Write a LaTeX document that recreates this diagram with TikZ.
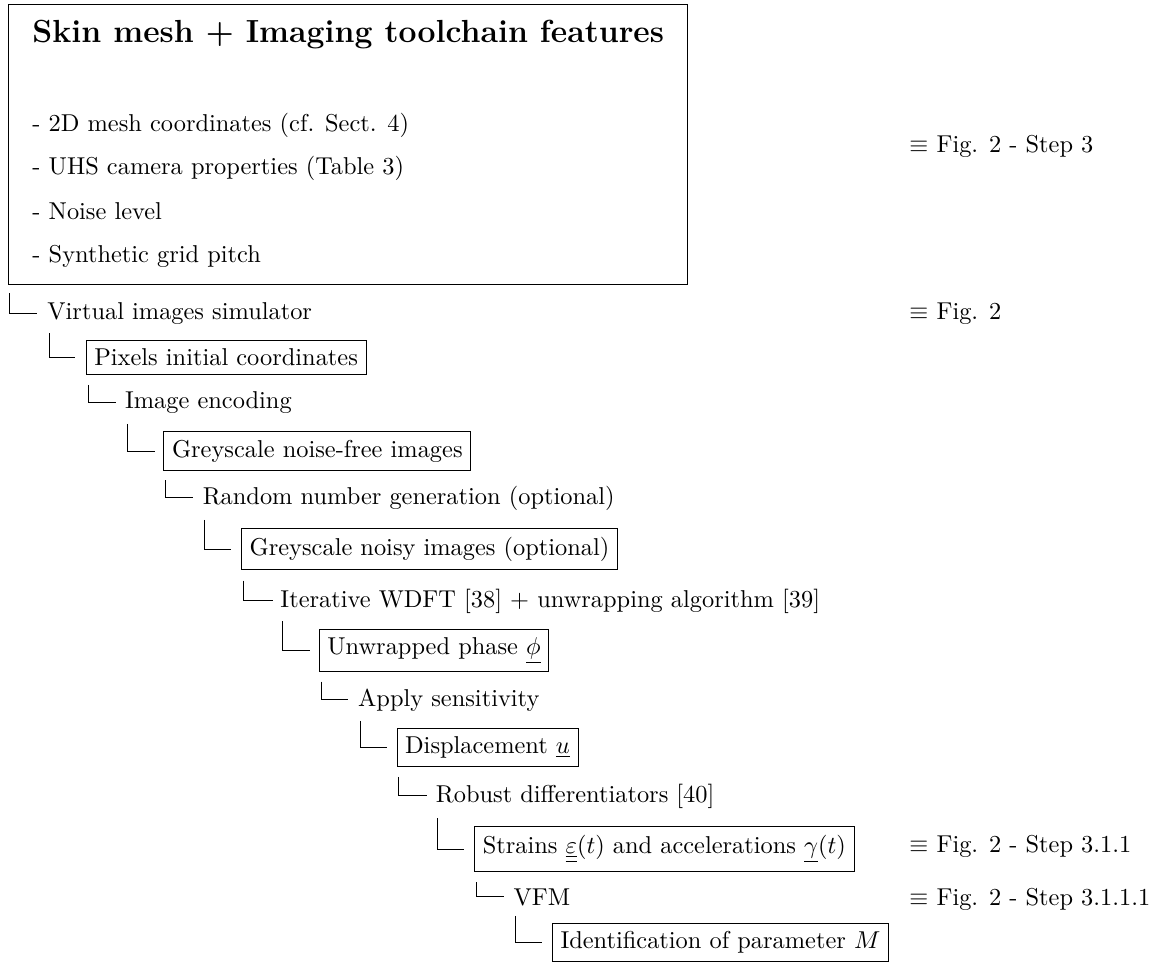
\documentclass[tikz,border=0pt]{standalone}
\begin{document}
\begin{tikzpicture}[x=0.41pt,y=-0.41pt,
  lbl/.style={inner sep=0pt, anchor=base west},
  boxn/.style={draw, line width=0.4pt, inner sep=0.333em, anchor=west},
  conn/.style={draw, line width=0.4pt},
]
\useasboundingbox (0,0) rectangle (1155,962);
% top box
\node[draw, line width=0.4pt, anchor=north west, minimum width=278.4pt, minimum height=114.8pt, inner sep=0pt] (top) at (7.6,4) {};
\node[lbl] (title) at (32,42.7) {\fontsize{13.1}{15}\selectfont\bfseries Skin mesh + Imaging toolchain features};
\node[lbl] (i1) at (32,131) {- 2D mesh coordinates (cf. Sect. 4)};
\node[lbl] (i2) at (32,175) {- UHS camera properties (Table 3)};
\node[lbl] (i3) at (32,219) {- Noise level};
\node[lbl] (i4) at (32,263) {- Synthetic grid pitch};
% references
\node[lbl] (r1) at (909,152) {$\equiv$ Fig. 2 - Step 3};
\node[lbl] (r2) at (909,319) {$\equiv$ Fig. 2};
\node[lbl] (r3) at (909,852) {$\equiv$ Fig. 2 - Step 3.1.1};
\node[lbl] (r4) at (909,905) {$\equiv$ Fig. 2 - Step 3.1.1.1};
% tree
\node[lbl] (n1) at (46.9,319) {Virtual images simulator};
\node[boxn] (n2) at (85.7,357.5) {Pixels initial coordinates};
\node[lbl] (n3) at (124.6,408) {Image encoding};
\node[boxn] (n4) at (163.4,451) {Greyscale noise-free images};
\node[lbl] (n5) at (202.3,504) {Random number generation (optional)};
\node[boxn] (n6) at (241.1,549) {Greyscale noisy images (optional)};
\node[lbl] (n7) at (280,607) {Iterative WDFT [38] + unwrapping algorithm [39]};
\node[boxn] (n8) at (318.8,650.5) {Unwrapped phase $\underline{\phi}$};
\node[lbl] (n9) at (357.7,706) {Apply sensitivity};
\node[boxn] (n10) at (396.5,747.5) {Displacement $\underline{u}$};
\node[lbl] (n11) at (435.4,802) {Robust differentiators [40]};
\node[boxn] (n12) at (474.2,849) {Strains $\underline{\underline{\varepsilon}}(t)$ and accelerations $\underline{\gamma}(t)$};
\node[lbl] (n13) at (513.1,905) {VFM};
\node[boxn] (n14) at (551.9,942.5) {Identification of parameter $M$};
% connectors
\draw[conn] ([xshift=0.6pt,yshift=-3.4pt]top.south west) |- ([xshift=-3.9pt]n1.west);
\draw[conn] ([xshift=1pt,yshift=-3.6pt]n1.south west) |- ([xshift=-4.2pt]n2.west);
\draw[conn] ([xshift=1pt,yshift=-4.2pt]n2.south west) |- ([xshift=-3.7pt]n3.west);
\draw[conn] ([xshift=1pt,yshift=-4.2pt]n3.south west) |- ([xshift=-3.6pt]n4.west);
\draw[conn] ([xshift=1pt,yshift=-4pt]n4.south west) |- ([xshift=-4pt]n5.west);
\draw[conn] ([xshift=1pt,yshift=-3.8pt]n5.south west) |- ([xshift=-4.2pt]n6.west);
\draw[conn] ([xshift=1pt,yshift=-4.4pt]n6.south west) |- ([xshift=-3pt]n7.west);
\draw[conn] ([xshift=1pt,yshift=-3.2pt]n7.south west) |- ([xshift=-3.7pt]n8.west);
\draw[conn] ([xshift=1pt,yshift=-3.8pt]n8.south west) |- ([xshift=-3.9pt]n9.west);
\draw[conn] ([xshift=1pt,yshift=-3.8pt]n9.south west) |- ([xshift=-3.9pt]n10.west);
\draw[conn] ([xshift=1pt,yshift=-4pt]n10.south west) |- ([xshift=-3.4pt]n11.west);
\draw[conn] ([xshift=1pt,yshift=-4pt]n11.south west) |- ([xshift=-4.2pt]n12.west);
\draw[conn] ([xshift=1pt,yshift=-4.4pt]n12.south west) |- ([xshift=-3.7pt]n13.west);
\draw[conn] ([xshift=1pt,yshift=-4pt]n13.south west) |- ([xshift=-3.9pt]n14.west);
\end{tikzpicture}
\end{document}
